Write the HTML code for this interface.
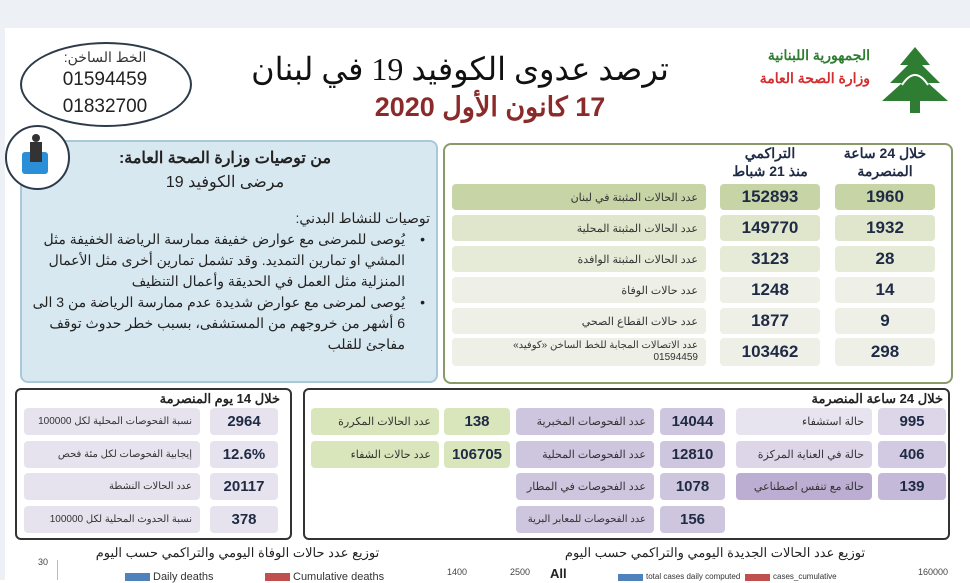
<!DOCTYPE html>
<html><head><meta charset="utf-8"><style>
*{margin:0;padding:0;box-sizing:border-box}
body{width:970px;height:580px;overflow:hidden;background:#fff;font-family:"Liberation Sans","Noto Sans CJK SC",sans-serif;position:relative}
.a{position:absolute;white-space:nowrap}
.c{position:absolute;display:flex;align-items:center;border-radius:4px;white-space:nowrap}
.n{justify-content:center;font-weight:bold;font-size:17px;color:#1f2a44}
.l{justify-content:flex-start;padding-right:8px;font-size:11px;color:#333;direction:rtl;text-align:right}
.ar{direction:rtl}
</style></head><body>
<div class="a" style="left:0;top:0;width:970px;height:28px;background:#edf1f6"></div>
<div class="a" style="left:0;top:28px;width:5px;height:552px;background:#edf1f6"></div>

<!-- ellipse hotline -->
<div class="a" style="left:20px;top:42px;width:172px;height:85px;border:2px solid #2d3a4a;border-radius:50%"></div>
<div class="a ar" style="left:55px;top:49px;width:100px;text-align:center;font-size:14px;color:#333">الخط الساخن:</div>
<div class="a" style="left:55px;top:69px;width:100px;text-align:center;font-size:19px;color:#222">01594459</div>
<div class="a" style="left:55px;top:96px;width:100px;text-align:center;font-size:19px;color:#222">01832700</div>

<!-- title -->
<div class="a ar" style="left:240px;top:50px;width:440px;text-align:center;font-family:'Liberation Serif','Noto Serif CJK SC',serif;font-size:32px;color:#111">ترصد عدوى الكوفيد 19 في لبنان</div>
<div class="a ar" style="left:340px;top:92px;width:300px;text-align:center;font-size:27px;font-weight:bold;color:#8b2a2a">17 كانون الأول 2020</div>

<!-- logo -->
<div class="a ar" style="left:700px;top:47px;width:170px;text-align:right;font-size:14px;font-weight:bold;color:#2e7d32">الجمهورية اللبنانية</div>
<div class="a ar" style="left:700px;top:70px;width:170px;text-align:right;font-size:14px;font-weight:bold;color:#d32f2f">وزارة الصحة العامة</div>
<svg class="a" style="left:880px;top:45px" width="70" height="70" viewBox="0 0 70 70">
<polygon points="35,2 20,20 28,20 10,38 22,38 2,56 68,56 48,38 60,38 42,20 50,20" fill="#2e7d32"/>
<rect x="30" y="50" width="10" height="18" fill="#2e7d32"/>
<path d="M22 40 Q35 20 48 40" stroke="#fff" stroke-width="2" fill="none"/>
</svg>

<!-- blue box -->
<div class="a" style="left:20px;top:140px;width:418px;height:243px;background:#d8e8f1;border:2px solid #a9c8d8;border-radius:8px"></div>
<div class="a" style="left:5px;top:125px;width:65px;height:65px;border:2px solid #2d3a4a;border-radius:50%;background:#fff"></div>
<div class="a" style="left:22px;top:152px;width:26px;height:22px;background:#2a8fd6;border-radius:3px"></div>
<div class="a" style="left:30px;top:142px;width:12px;height:20px;background:#333"></div>
<div class="a" style="left:32px;top:134px;width:8px;height:8px;background:#333;border-radius:50%"></div>
<div class="a ar" style="left:60px;top:148px;width:330px;text-align:center;font-size:16px;font-weight:bold;color:#222">من توصيات وزارة الصحة العامة:</div>
<div class="a ar" style="left:60px;top:172px;width:330px;text-align:center;font-size:16px;color:#222">مرضى الكوفيد 19</div>
<div class="ar" style="position:absolute;left:30px;top:208px;width:400px;font-size:14px;color:#222;line-height:21px;text-align:right">
توصيات للنشاط البدني:<br>
<div style="padding-right:25px;position:relative"><span style="position:absolute;right:5px">•</span>يُوصى للمرضى مع عوارض خفيفة ممارسة الرياضة الخفيفة مثل المشي او تمارين التمديد. وقد تشمل تمارين أخرى مثل الأعمال المنزلية مثل العمل في الحديقة وأعمال التنظيف</div>
<div style="padding-right:25px;position:relative"><span style="position:absolute;right:5px">•</span>يُوصى لمرضى مع عوارض شديدة عدم ممارسة الرياضة من 3 الى 6 أشهر من خروجهم من المستشفى، بسبب خطر حدوث توقف مفاجئ للقلب</div>
</div>

<!-- green box -->
<div class="a" style="left:443px;top:143px;width:510px;height:241px;border:2px solid #8a9a6a;border-radius:8px"></div>
<div class="a ar" style="left:825px;top:144px;width:120px;text-align:center;font-size:14px;font-weight:bold;color:#1f2a44;line-height:18px">خلال 24 ساعة<br>المنصرمة</div>
<div class="a ar" style="left:710px;top:144px;width:120px;text-align:center;font-size:14px;font-weight:bold;color:#1f2a44;line-height:18px">التراكمي<br>منذ 21 شباط</div>

<div class="c l" style="left:452px;top:184px;width:254px;height:26px;background:#c6d4a6">عدد الحالات المثبتة في لبنان</div>
<div class="c n" style="left:720px;top:184px;width:100px;height:26px;background:#c6d4a6">152893</div>
<div class="c n" style="left:835px;top:184px;width:100px;height:26px;background:#c6d4a6">1960</div>

<div class="c l" style="left:452px;top:215px;width:254px;height:26px;background:#dfe6cc">عدد الحالات المثبتة المحلية</div>
<div class="c n" style="left:720px;top:215px;width:100px;height:26px;background:#dfe6cc">149770</div>
<div class="c n" style="left:835px;top:215px;width:100px;height:26px;background:#dfe6cc">1932</div>

<div class="c l" style="left:452px;top:246px;width:254px;height:26px;background:#e6ebd8">عدد الحالات المثبتة الوافدة</div>
<div class="c n" style="left:720px;top:246px;width:100px;height:26px;background:#e6ebd8">3123</div>
<div class="c n" style="left:835px;top:246px;width:100px;height:26px;background:#e6ebd8">28</div>

<div class="c l" style="left:452px;top:277px;width:254px;height:26px;background:#eef0e7">عدد حالات الوفاة</div>
<div class="c n" style="left:720px;top:277px;width:100px;height:26px;background:#eef0e7">1248</div>
<div class="c n" style="left:835px;top:277px;width:100px;height:26px;background:#eef0e7">14</div>

<div class="c l" style="left:452px;top:308px;width:254px;height:26px;background:#eef0e7">عدد حالات القطاع الصحي</div>
<div class="c n" style="left:720px;top:308px;width:100px;height:26px;background:#eef0e7">1877</div>
<div class="c n" style="left:835px;top:308px;width:100px;height:26px;background:#eef0e7">9</div>

<div class="c l" style="left:452px;top:338px;width:254px;height:28px;background:#eef0e7;flex-direction:column;align-items:flex-start;justify-content:center;line-height:12px;font-size:10px"><span>عدد الاتصالات المجابة للخط الساخن «كوفيد»</span><span>01594459</span></div>
<div class="c n" style="left:720px;top:338px;width:100px;height:28px;background:#eef0e7">103462</div>
<div class="c n" style="left:835px;top:338px;width:100px;height:28px;background:#eef0e7">298</div>

<!-- bottom left box -->
<div class="a" style="left:15px;top:388px;width:277px;height:152px;border:2px solid #333;border-radius:6px"></div>
<div class="a ar" style="left:110px;top:391px;width:170px;text-align:right;font-size:13px;font-weight:bold;color:#222">خلال 14 يوم المنصرمة</div>
<div class="c l" style="left:24px;top:408px;width:176px;height:27px;background:#e6e3ee;font-size:10px">نسبة الفحوصات المحلية لكل 100000</div>
<div class="c n" style="left:210px;top:408px;width:68px;height:27px;background:#e6e3ee;font-size:15px">2964</div>
<div class="c l" style="left:24px;top:441px;width:176px;height:27px;background:#e6e3ee;font-size:10px">إيجابية الفحوصات لكل مئة فحص</div>
<div class="c n" style="left:210px;top:441px;width:68px;height:27px;background:#e6e3ee;font-size:15px">12.6%</div>
<div class="c l" style="left:24px;top:473px;width:176px;height:27px;background:#e6e3ee;font-size:10px">عدد الحالات النشطة</div>
<div class="c n" style="left:210px;top:473px;width:68px;height:27px;background:#e6e3ee;font-size:15px">20117</div>
<div class="c l" style="left:24px;top:506px;width:176px;height:27px;background:#e6e3ee;font-size:10px">نسبة الحدوث المحلية لكل 100000</div>
<div class="c n" style="left:210px;top:506px;width:68px;height:27px;background:#e6e3ee;font-size:15px">378</div>

<!-- bottom right box -->
<div class="a" style="left:303px;top:388px;width:647px;height:152px;border:2px solid #333;border-radius:6px"></div>
<div class="a ar" style="left:760px;top:391px;width:183px;text-align:right;font-size:13px;font-weight:bold;color:#222">خلال 24 ساعة المنصرمة</div>

<div class="c l" style="left:736px;top:408px;width:136px;height:27px;background:#e7e4ef">حالة استشفاء</div>
<div class="c n" style="left:878px;top:408px;width:68px;height:27px;background:#dcd6e8;font-size:15px">995</div>
<div class="c l" style="left:736px;top:441px;width:136px;height:27px;background:#dcd6e8">حالة في العناية المركزة</div>
<div class="c n" style="left:878px;top:441px;width:68px;height:27px;background:#d2cae2;font-size:15px">406</div>
<div class="c l" style="left:736px;top:473px;width:136px;height:27px;background:#bcaed2">حالة مع تنفس اصطناعي</div>
<div class="c n" style="left:878px;top:473px;width:68px;height:27px;background:#c5b9da;font-size:15px">139</div>

<div class="c l" style="left:516px;top:408px;width:138px;height:27px;background:#cec5de">عدد الفحوصات المخبرية</div>
<div class="c n" style="left:660px;top:408px;width:65px;height:27px;background:#cec5de;font-size:15px">14044</div>
<div class="c l" style="left:516px;top:441px;width:138px;height:27px;background:#cec5de">عدد الفحوصات المحلية</div>
<div class="c n" style="left:660px;top:441px;width:65px;height:27px;background:#cec5de;font-size:15px">12810</div>
<div class="c l" style="left:516px;top:473px;width:138px;height:27px;background:#cec5de">عدد الفحوصات في المطار</div>
<div class="c n" style="left:660px;top:473px;width:65px;height:27px;background:#cec5de;font-size:15px">1078</div>
<div class="c l" style="left:516px;top:506px;width:138px;height:27px;background:#cec5de;font-size:10px">عدد الفحوصات للمعابر البرية</div>
<div class="c n" style="left:660px;top:506px;width:65px;height:27px;background:#cec5de;font-size:15px">156</div>

<div class="c l" style="left:311px;top:408px;width:128px;height:27px;background:#d9e6bb">عدد الحالات المكررة</div>
<div class="c n" style="left:444px;top:408px;width:66px;height:27px;background:#d9e6bb;font-size:15px">138</div>
<div class="c l" style="left:311px;top:441px;width:128px;height:27px;background:#d9e6bb">عدد حالات الشفاء</div>
<div class="c n" style="left:444px;top:441px;width:66px;height:27px;background:#d9e6bb;font-size:15px">106705</div>

<!-- charts -->
<div class="a ar" style="left:90px;top:545px;width:295px;text-align:center;font-size:13px;color:#222">توزيع عدد حالات الوفاة اليومي والتراكمي حسب اليوم</div>
<div class="a ar" style="left:560px;top:545px;width:310px;text-align:center;font-size:13px;color:#222">توزيع عدد الحالات الجديدة اليومي والتراكمي حسب اليوم</div>
<div class="a" style="left:38px;top:557px;font-size:9px;color:#444">30</div>
<div class="a" style="left:57px;top:560px;width:1px;height:20px;background:#bbb"></div>
<div class="a" style="left:125px;top:573px;width:25px;height:8px;background:#4f81bd"></div>
<div class="a" style="left:153px;top:571px;font-size:11px;color:#333">Daily deaths</div>
<div class="a" style="left:265px;top:573px;width:25px;height:8px;background:#c0504d"></div>
<div class="a" style="left:293px;top:571px;font-size:11px;color:#333">Cumulative deaths</div>
<div class="a" style="left:447px;top:567px;font-size:9px;color:#444">1400</div>
<div class="a" style="left:510px;top:567px;font-size:9px;color:#444">2500</div>
<div class="a" style="left:550px;top:566px;font-size:13px;font-weight:bold;color:#222">All</div>
<div class="a" style="left:618px;top:574px;width:25px;height:7px;background:#4f81bd"></div>
<div class="a" style="left:646px;top:572px;font-size:8px;color:#333">total cases daily computed</div>
<div class="a" style="left:745px;top:574px;width:25px;height:7px;background:#c0504d"></div>
<div class="a" style="left:773px;top:572px;font-size:8px;color:#333">cases_cumulative</div>
<div class="a" style="left:918px;top:567px;font-size:9px;color:#444">160000</div>
</body></html>
